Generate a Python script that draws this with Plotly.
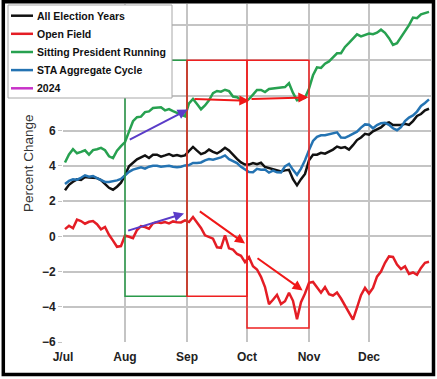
import pandas as pd
import plotly.graph_objects as go

# ---- data ----
dates = pd.date_range("2024-07-02", "2024-12-31", freq="2D")  # 92 points

all_election = [
    2.62, 2.93, 3.1, 3.24, 3.2, 3.37, 3.35, 3.31, 3.31, 3.2,
    2.99, 2.76, 2.65, 2.82, 3.05, 3.47, 3.98, 4.2, 4.38, 4.49,
    4.6, 4.45, 4.64, 4.64, 4.53, 4.6, 4.68, 4.57, 4.62, 4.55,
    4.6, 4.85, 5.08, 4.87, 4.67, 4.75, 4.93, 4.8, 4.71, 4.85,
    5.03, 4.88, 4.62, 4.4, 4.2, 4.08, 4.08, 4.17, 4.1, 4.18,
    3.94, 3.87, 3.83, 3.77, 3.69, 3.75, 3.78, 3.25, 2.9, 3.25,
    3.55, 4.32, 4.64, 4.64, 4.75, 4.7, 4.81, 4.93, 5.1, 5.02,
    5.07, 4.93, 5.18, 5.47, 5.62, 5.83, 5.78, 5.97, 6.08, 6.19,
    6.4, 6.48, 6.33, 6.33, 6.33, 6.4, 6.33, 6.55, 6.84, 6.95,
    7.16, 7.25,
]
open_field = [
    0.41, 0.6, 0.46, 0.95, 0.87, 0.72, 0.83, 0.87, 0.69, 0.4,
    0.53, 0.09, -0.24, -0.59, -0.55, 0.05, -0.02, -0.1, 0.36, 0.58,
    0.53, 0.44, 0.74, 0.8, 0.76, 0.81, 0.74, 0.85, 0.8, 0.79,
    0.91, 0.82, 1.1, 0.77, 0.48, 0.06, -0.02, -0.13, -0.62, -0.65,
    0.06, -0.68, -0.75, -1.0, -1.1, -1.46, -1.18, -1.7, -1.88, -2.3,
    -2.88, -3.85, -3.6, -3.32, -3.84, -3.68, -3.2, -3.66, -4.7, -3.74,
    -3.24, -2.64, -2.59, -2.92, -3.2, -2.88, -3.28, -3.36, -3.19, -3.53,
    -3.96, -4.33, -4.73, -4.05, -3.34, -2.93, -3.25, -2.93, -2.29, -2.0,
    -1.5, -1.14, -1.17, -1.6, -1.86, -1.7, -2.13, -2.05, -2.18, -1.79,
    -1.5, -1.44,
]
sitting_president = [
    4.2, 4.65, 4.95, 4.72, 4.8, 4.89, 4.64, 4.9, 4.95, 5.03,
    4.89, 4.55, 4.45, 4.87, 5.13, 5.36, 5.95, 6.54, 6.77, 6.8,
    7.06, 7.1, 7.29, 7.29, 7.33, 7.16, 7.23, 7.12, 7.02, 6.9,
    6.82, 7.55, 7.81, 7.52, 7.22, 7.44, 7.73, 8.14, 8.26, 8.22,
    8.33, 8.25, 7.94, 7.9, 7.75, 7.7, 7.8, 8.05, 8.32, 8.32,
    8.2, 8.37, 8.41, 8.46, 8.46, 8.48, 8.7, 8.15, 7.73, 7.8,
    7.88, 8.39, 9.15, 9.6, 9.57, 9.81, 9.94, 10.17, 10.4, 10.4,
    10.76, 10.99, 11.25, 11.48, 11.36, 11.42, 11.52, 11.48, 11.57, 11.74,
    11.56, 11.26, 10.88, 10.97, 11.32, 11.65, 12.0, 12.43, 12.39, 12.61,
    12.7, 12.75,
]
sta_aggregate = [
    2.97, 3.15, 3.24, 3.22, 3.33, 3.47, 3.39, 3.43, 3.31, 3.2,
    3.09, 3.09, 3.12, 3.18, 3.26, 3.47, 3.67, 3.79, 3.85, 3.92,
    3.85, 3.96, 4.01, 4.01, 3.96, 3.98, 4.01, 3.96, 3.93, 3.96,
    4.03, 4.05, 4.17, 4.17, 4.2, 4.32, 4.39, 4.36, 4.41, 4.49,
    4.6, 4.39, 4.28, 4.16, 3.95, 3.8, 3.65, 3.64, 3.84, 3.78,
    3.8, 3.62, 3.73, 3.64, 3.63, 3.98, 4.12, 3.78, 3.5, 3.85,
    4.32, 4.9, 5.42, 5.65, 5.74, 5.74, 5.8, 5.83, 5.91, 5.61,
    5.6, 5.71, 5.82, 5.95, 6.18, 6.36, 6.34, 6.14, 6.32, 6.43,
    6.45, 6.34, 6.14, 6.03, 6.2, 6.55, 6.75, 6.87, 7.09, 7.41,
    7.58, 7.78,
]

series_names = ["All Election Years", "Open Field", "Sitting President Running",
                "STA Aggregate Cycle", "2024"]
series_colors = ["#111111", "#e41d25", "#27a150", "#2473b2", "#c832c8"]

month_ticks = ["2024-07-01", "2024-08-01", "2024-09-01", "2024-10-01",
               "2024-11-01", "2024-12-01"]
month_labels = ["J/ul", "Aug", "Sep", "Oct", "Nov", "Dec"]
y_ticks = [-6, -4, -2, 0, 2, 4, 6, 8, 10, 12]
y_labels = ["\u22126", "\u22124", "\u22122", "0", "2", "4", "6", "", "", ""]

# highlighted periods: (start, end, low, high, colour)
boxes = [
    ("2024-08-01", "2024-09-01", -3.4, 10.0, "#2a9a4a"),
    ("2024-09-01", "2024-10-01", -3.4, 10.0, "#ee2020"),
    ("2024-10-01", "2024-11-01", -5.2, 10.0, "#ee2020"),
]
# arrows: (start date, start value, end date, end value, colour)
arrows = [
    ("2024-08-02 15:00", 5.45, "2024-09-01 08:00", 7.2, "#5a3cc8"),
    ("2024-08-01 20:00", 0.3, "2024-08-30 12:00", 1.3, "#5a3cc8"),
    ("2024-09-04", 7.8, "2024-10-02 04:00", 7.7, "#f01818"),
    ("2024-10-02 12:00", 7.8, "2024-10-31 16:00", 7.9, "#f01818"),
    ("2024-09-06 16:00", 1.48, "2024-09-30", -0.41, "#f01818"),
    ("2024-10-05 12:00", -1.18, "2024-10-28 20:00", -3.07, "#f01818"),
]

# ---- layout geometry (pixels) ----
W, H = 437, 379
ML, MR, MT, MB = 63, 6, 4, 37
PW, PH = W - ML - MR, H - MT - MB


def px(x):  # figure pixel x -> paper x
    return (x - ML) / PW


def py(y):  # figure pixel y (from top) -> paper y
    return (H - MB - y) / PH


# ---- figure ----
fig = go.Figure()
values = [all_election, open_field, sitting_president, sta_aggregate]
for name, vals, color in zip(series_names[:4], values, series_colors[:4]):
    fig.add_trace(go.Scatter(x=dates, y=vals, mode="lines", name=name,
                             line=dict(color=color, width=2.5), showlegend=False))

shapes = []
for x0, x1, y0, y1, c in boxes:
    shapes.append(dict(type="rect", xref="x", yref="y", x0=x0, x1=x1, y0=y0, y1=y1,
                       line=dict(color=c, width=1.5), layer="above"))

# legend box (drawn as in the original picture)
shapes.append(dict(type="rect", xref="paper", yref="paper",
                   x0=px(8), x1=px(172), y0=py(98), y1=py(5),
                   fillcolor="white", line=dict(color="#a8a8a8", width=1),
                   layer="above"))
annotations = []
row_y = [15.7, 33.8, 52.0, 70.1, 88.3]
for name, color, yy in zip(series_names, series_colors, row_y):
    shapes.append(dict(type="line", xref="paper", yref="paper",
                       x0=px(11), x1=px(33), y0=py(yy), y1=py(yy),
                       line=dict(color=color, width=2.5), layer="above"))
    annotations.append(dict(text=name, xref="paper", yref="paper",
                            x=px(35), y=py(yy), xanchor="left", yanchor="middle",
                            showarrow=False,
                            font=dict(size=10.5, weight="bold", color="#111")))

# outer black frame
shapes.append(dict(type="rect", xref="paper", yref="paper",
                   x0=px(3.3), x1=px(433.5), y0=py(374.5), y1=py(1.7),
                   line=dict(color="black", width=3.5), layer="above"))

for sx, sy, ex, ey, c in arrows:
    annotations.append(dict(x=ex, y=ey, ax=sx, ay=sy, xref="x", yref="y",
                            axref="x", ayref="y", text="", showarrow=True,
                            arrowhead=2, arrowsize=1, arrowwidth=2, arrowcolor=c))
annotations.append(dict(text="Percent Change", xref="paper", yref="paper",
                        x=px(28), y=py(163), xanchor="center", yanchor="middle",
                        textangle=-90, showarrow=False,
                        font=dict(size=13.5, color="#333")))

fig.update_layout(
    width=W, height=H,
    margin=dict(l=ML, r=MR, t=MT, b=MB),
    paper_bgcolor="white", plot_bgcolor="white",
    font=dict(family="Liberation Sans, Arial, sans-serif", color="#222"),
    showlegend=False,
    shapes=shapes, annotations=annotations,
)
fig.update_xaxes(type="date", range=["2024-07-01", "2025-01-01"],
                 tickvals=month_ticks, ticktext=month_labels,
                 showgrid=True, gridcolor="#c4c4c4", gridwidth=1.5,
                 zeroline=False, showline=False, ticks="", ticklabelstandoff=6,
                 tickfont=dict(size=12, weight="bold", color="#222"))
fig.update_yaxes(range=[-6, 13.2], tickvals=y_ticks, ticktext=y_labels,
                 showgrid=True, gridcolor="#c4c4c4", gridwidth=1.5,
                 zeroline=False, showline=False, ticks="outside", ticklen=4,
                 tickcolor="#c4c4c4",
                 tickfont=dict(size=12, weight="bold", color="#222"))

fig.write_html("out.html", config={"displayModeBar": False},
               post_script="document.body.style.margin='0';document.body.style.padding='0';")
